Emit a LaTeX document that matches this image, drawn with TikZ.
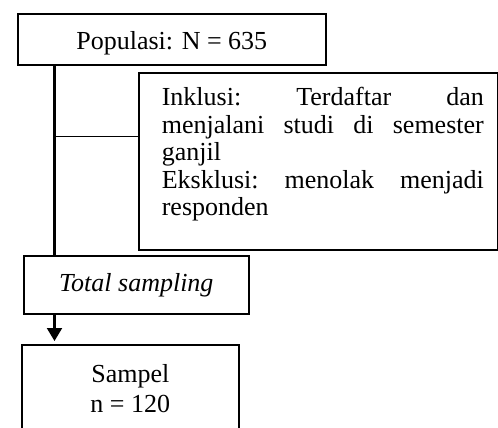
\documentclass[tikz,border=0pt]{standalone}
\usepackage{fontspec}
\setmainfont{Liberation Serif}
\usetikzlibrary{arrows.meta}
\newcommand{\inkline}[1]{\hbox to 359pt{\vrule width0pt height19pt depth8.5pt\hskip23pt\hbox to 322pt{#1}\hss}}
\newcommand{\sampline}[1]{\hbox to 217pt{\hss\vrule width0pt height20pt depth10pt #1\hss}}
\begin{document}
\begin{tikzpicture}[x=1pt,y=-1pt,
  box/.style={draw, line width=1.6pt, inner sep=0pt, font=\fontsize{26}{28}\selectfont},
  conn/.style={line width=2.2pt},
  hconn/.style={line width=1.5pt}]
\useasboundingbox (0,0) rectangle (498,428);
\clip (0,0) rectangle (498,428);
\node[box, anchor=north west, minimum width=308pt, minimum height=51pt,
      text height=20pt, text depth=0.4pt] (pop) at (17,13) {Populasi: N = 635};
\node[box, anchor=north west] (incl) at (138,72) {\vbox to 177pt{\baselineskip=27.5pt\lineskip=0pt\lineskiplimit=-100pt
  \kern14pt
  \inkline{Inklusi:\hfill Terdaftar\hfill dan}
  \inkline{menjalani\hfill studi\hfill di\hfill semester}
  \inkline{ganjil\hfill}
  \inkline{Eksklusi:\hfill menolak\hfill menjadi}
  \inkline{responden\hfill}
  \vss}};
\node[box, anchor=north west, minimum width=225pt, minimum height=58pt,
      text height=18pt, text depth=4.6pt, font=\fontsize{26}{28}\selectfont\itshape] (tot) at (23,255) {Total sampling};
\node[box, anchor=north west] (samp) at (21,344) {\vbox to 100pt{\baselineskip=30pt\lineskip=0pt\lineskiplimit=-100pt
  \kern17.7pt
  \sampline{Sampel}
  \sampline{n = 120}
  \vss}};
\coordinate (j) at (54.5,136.7);
\draw[conn] (pop.south -| j) -- (tot.north -| j);
\draw[hconn] (j) -- (j -| incl.west);
\draw[conn, -{Triangle[width=15pt,length=13pt]}, shorten >=3pt] (tot.south -| j) -- (samp.north -| j);
\end{tikzpicture}
\end{document}
